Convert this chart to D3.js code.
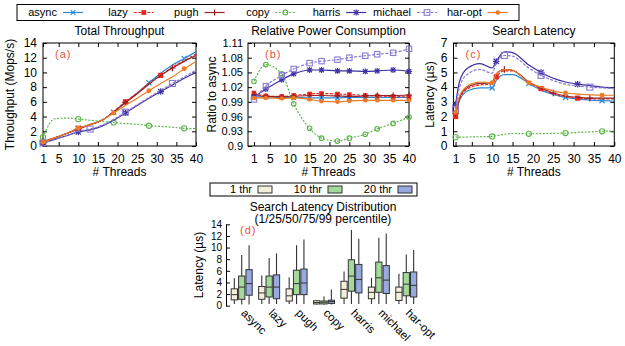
<!DOCTYPE html>
<html>
<head>
<meta charset="utf-8">
<script src="https://cdn.jsdelivr.net/npm/d3@7"></script>
<style>
  body { margin: 0; background: #fff; }
  text { font-family: "Liberation Sans", Arial, sans-serif; fill: #000; }
</style>
</head>
<body>
<svg id="chart" width="625" height="346"></svg>
<script>
const seriesNames = ["async", "lazy", "pugh", "copy", "harris", "michael", "har-opt"];

// thread counts used by each line panel
const threadsA = [1, 4, 7, 10, 13, 16, 19, 22, 25, 28, 31, 34, 37, 40];
const threadsB = [1, 4, 8, 11, 15, 18, 22, 25, 29, 32, 36, 40];
const threadsC = [1, 2, 4, 7, 10, 11, 13, 15, 19, 22, 25, 28, 31, 34, 37, 40];

// (a) total throughput, Mops/s
const tputAsync   = [0.5, 1.1, 1.7, 2.4, 2.9, 3.5, 4.6, 5.9, 7.2, 8.6, 9.9, 11.0, 11.9, 12.8];
const tputLazy    = [0.5, 1.1, 1.7, 2.4, 2.9, 3.5, 4.7, 6.0, 7.2, 8.5, 9.6, 10.7, 11.6, 12.5];
const tputPugh    = [0.6, 1.1, 1.7, 2.3, 2.9, 3.5, 4.6, 5.9, 7.1, 8.4, 9.6, 10.6, 11.5, 12.3];
const tputCopy    = [1.2, 3.7, 3.8, 3.65, 3.5, 3.35, 3.2, 3.05, 2.95, 2.75, 2.65, 2.55, 2.4, 2.35];
const tputHarris  = [0.4, 0.9, 1.4, 1.9, 2.2, 2.7, 3.5, 4.5, 5.5, 6.5, 7.4, 8.3, 9.2, 10.0];
const tputMichael = [0.4, 0.9, 1.4, 2.0, 2.3, 2.8, 3.6, 4.6, 5.6, 6.6, 7.6, 8.5, 9.4, 10.3];
const tputHarOpt  = [0.5, 1.1, 1.7, 2.4, 2.9, 3.5, 4.5, 5.5, 6.5, 7.5, 8.5, 9.4, 10.5, 11.5];

// (b) power relative to async
const powAsync   = [1.0, 1.0, 0.999, 0.999, 0.998, 0.998, 0.998, 0.999, 0.999, 0.999, 0.999, 0.999];
const powLazy    = [1.008, 1.002, 1.001, 1.003, 1.006, 1.007, 1.006, 1.005, 1.003, 1.002, 1.001, 1.0];
const powPugh    = [1.004, 1.001, 1.0, 1.001, 1.003, 1.003, 1.002, 1.001, 1.002, 1.003, 1.003, 1.004];
const powCopy    = [1.032, 1.066, 1.047, 0.986, 0.936, 0.916, 0.910, 0.916, 0.924, 0.935, 0.946, 0.959];
const powHarris  = [1.0, 1.016, 1.035, 1.047, 1.055, 1.055, 1.053, 1.053, 1.052, 1.053, 1.055, 1.052];
const powMichael = [0.995, 1.022, 1.044, 1.057, 1.069, 1.073, 1.076, 1.080, 1.084, 1.087, 1.090, 1.098];
const powHarOpt  = [0.998, 0.998, 0.997, 0.998, 0.995, 0.991, 0.990, 0.992, 0.993, 0.993, 0.993, 0.993];

// (c) search latency, us
const latAsync   = [2.1, 3.1, 3.75, 3.95, 3.95, 4.45, 4.85, 4.85, 4.25, 3.8, 3.5, 3.3, 3.2, 3.12, 3.08, 3.05];
const latLazy    = [2.0, 3.2, 3.9, 4.15, 4.2, 4.7, 5.1, 5.1, 4.3, 3.9, 3.55, 3.35, 3.25, 3.2, 3.2, 3.2];
const latPugh    = [2.2, 3.3, 4.0, 4.25, 4.3, 4.9, 5.2, 5.15, 4.35, 3.95, 3.6, 3.4, 3.3, 3.25, 3.25, 3.25];
const latCopy    = [0.6, 0.6, 0.61, 0.63, 0.65, 0.7, 0.8, 0.85, 0.83, 0.84, 0.86, 0.88, 0.92, 0.96, 1.0, 1.02];
const latHarris  = [2.8, 4.4, 5.3, 5.6, 5.3, 5.75, 6.4, 6.35, 5.5, 5.0, 4.6, 4.35, 4.2, 4.1, 4.0, 3.95];
const latMichael = [2.5, 4.0, 4.9, 5.2, 4.95, 5.65, 6.15, 6.1, 5.3, 4.8, 4.45, 4.2, 4.08, 4.0, 3.95, 3.9];
const latHarOpt  = [2.3, 3.4, 4.1, 4.35, 4.3, 4.9, 5.2, 5.15, 4.3, 4.0, 3.75, 3.6, 3.52, 3.48, 3.45, 3.45];

// (d) latency distribution: [p1, p25, p50, p75, p99] for 1 / 10 / 20 threads
const thrLabels  = ["1 thr", "10 thr", "20 thr"];
const boxAsync   = [[0.3, 1.0, 1.9, 2.9, 4.7], [0.2, 1.1, 3.2, 5.1, 8.7], [0.2, 1.8, 3.8, 6.2, 10.4]];
const boxLazy    = [[0.3, 1.1, 2.2, 3.3, 5.2], [0.3, 1.5, 3.2, 5.1, 8.2], [0.3, 1.2, 3.2, 5.3, 9.0]];
const boxPugh    = [[0.3, 0.8, 1.7, 2.9, 4.9], [0.3, 1.9, 3.8, 6.1, 10.4], [0.3, 1.9, 3.9, 6.3, 11.4]];
const boxCopy    = [[0.2, 0.3, 0.55, 0.85, 0.9], [0.2, 0.3, 0.6, 0.8, 1.6], [0.2, 0.4, 0.7, 0.95, 2.8]];
const boxHarris  = [[0.3, 1.3, 2.8, 4.2, 5.9], [0.3, 2.5, 5.1, 7.9, 13.0], [0.3, 2.2, 4.5, 7.1, 11.5]];
const boxMichael = [[0.3, 1.2, 2.3, 3.2, 4.8], [0.3, 2.3, 4.8, 7.5, 11.7], [0.3, 2.1, 4.4, 6.9, 12.4]];
const boxHarOpt  = [[0.3, 0.9, 2.3, 3.2, 5.5], [0.3, 1.7, 3.7, 5.7, 8.8], [0.3, 1.5, 3.5, 5.8, 9.6]];

const xTicks = [1, 5, 10, 15, 20, 25, 30, 35, 40];

// look of each series
const styles = {
  "async":   {color: "#2a8ad8", marker: "x",     dash: null},
  "lazy":    {color: "#e8291e", marker: "sq",    dash: "3,1.5"},
  "pugh":    {color: "#9c1f25", marker: "plus",  dash: null},
  "copy":    {color: "#5cb548", marker: "circ",  dash: "2,1.5"},
  "harris":  {color: "#3b2fa3", marker: "star",  dash: null},
  "michael": {color: "#8a7bd3", marker: "osq",   dash: "3,1.5"},
  "har-opt": {color: "#ec7a22", marker: "dot",   dash: null}
};
const boxColors = ["#f4efdc", "#a3d99a", "#98a9e0"];

const svg = d3.select("#chart");

function drawMarker(g, type, color, x, y, s) {
  s = s || 2.6;
  if (type === "x" || type === "star") {
    g.append("path").attr("d", `M${x-s},${y-s}L${x+s},${y+s}M${x-s},${y+s}L${x+s},${y-s}`)
      .attr("stroke", color).attr("stroke-width", 1.2).attr("fill", "none");
  }
  if (type === "plus" || type === "star") {
    g.append("path").attr("d", `M${x-s-0.6},${y}H${x+s+0.6}M${x},${y-s-0.6}V${y+s+0.6}`)
      .attr("stroke", color).attr("stroke-width", 1.2).attr("fill", "none");
  }
  if (type === "sq") {
    g.append("rect").attr("x", x - s).attr("y", y - s).attr("width", 2 * s).attr("height", 2 * s)
      .attr("fill", color);
  }
  if (type === "osq") {
    g.append("rect").attr("x", x - s - 0.4).attr("y", y - s - 0.4).attr("width", 2 * s + 0.8).attr("height", 2 * s + 0.8)
      .attr("fill", "none").attr("stroke", color).attr("stroke-width", 1.1);
  }
  if (type === "circ") {
    g.append("circle").attr("cx", x).attr("cy", y).attr("r", s)
      .attr("fill", "none").attr("stroke", color).attr("stroke-width", 1.1);
  }
  if (type === "dot") {
    g.append("circle").attr("cx", x).attr("cy", y).attr("r", s * 0.95).attr("fill", color);
  }
}

function styleAxis(g, size) {
  g.attr("font-family", "Liberation Sans, Arial, sans-serif").attr("font-size", size || 12);
  g.select(".domain").remove();
  g.selectAll(".tick line").attr("stroke", "#000");
}

function linePanel(cfg) {
  const g = svg.append("g");
  const x = d3.scaleLinear().domain(cfg.xDomain).range([cfg.left, cfg.right]);
  const y = d3.scaleLinear().domain(cfg.yDomain).range([cfg.bottom, cfg.top]);

  g.append("g").attr("transform", `translate(0,${cfg.bottom})`)
    .call(d3.axisBottom(x).tickValues(xTicks).tickSizeInner(-4).tickSizeOuter(0).tickPadding(8))
    .call(styleAxis, 12);
  g.append("g").attr("transform", `translate(0,${cfg.top})`)
    .call(d3.axisTop(x).tickValues(xTicks).tickSizeInner(-4).tickSizeOuter(0).tickFormat(""))
    .call(styleAxis);
  g.append("g").attr("transform", `translate(${cfg.left},0)`)
    .call(d3.axisLeft(y).tickValues(cfg.yTicks).tickFormat(cfg.yFormat).tickSizeInner(-4).tickSizeOuter(0).tickPadding(cfg.yPad || 6))
    .call(styleAxis, cfg.yFont);
  g.append("g").attr("transform", `translate(${cfg.right},0)`)
    .call(d3.axisRight(y).tickValues(cfg.yTicks).tickSizeInner(-4).tickSizeOuter(0).tickFormat(""))
    .call(styleAxis);

  g.append("rect").attr("x", cfg.left).attr("y", cfg.top)
    .attr("width", cfg.right - cfg.left).attr("height", cfg.bottom - cfg.top)
    .attr("fill", "none").attr("stroke", "#000").attr("stroke-width", 1);

  const line = d3.line().x(d => x(d[0])).y(d => y(d[1])).curve(d3.curveMonotoneX);

  seriesNames.forEach((name, i) => {
    const st = styles[name];
    const pts = cfg.threads.map((t, k) => [t, cfg.values[i][k]]);
    g.append("path").datum(pts)
      .attr("d", line)
      .attr("fill", "none")
      .attr("stroke", st.color)
      .attr("stroke-width", 1.2)
      .attr("stroke-dasharray", st.dash);
    const idx = cfg.markAt ? cfg.markAt[i] : pts.map((p, k) => k);
    idx.forEach(k => drawMarker(g, st.marker, st.color, x(pts[k][0]), y(pts[k][1]), cfg.markSize));
  });

  g.append("text").attr("x", (cfg.left + cfg.right) / 2).attr("y", cfg.top - 8)
    .attr("text-anchor", "middle").attr("font-size", 12).text(cfg.title);
  g.append("text").attr("x", (cfg.left + cfg.right) / 2).attr("y", cfg.bottom + 30)
    .attr("text-anchor", "middle").attr("font-size", 12).text("# Threads");
  g.append("text")
    .attr("transform", `translate(${cfg.ylabX},${(cfg.top + cfg.bottom) / 2}) rotate(-90)`)
    .attr("text-anchor", "middle").attr("dy", "0.35em").attr("font-size", 12).text(cfg.ylab);
  g.append("text").attr("x", cfg.left + cfg.tagDx).attr("y", cfg.top + 15)
    .attr("font-family", "Liberation Mono, monospace").attr("font-size", 11)
    .attr("letter-spacing", 1).style("fill", "#f0503c").text(cfg.tag);
}

linePanel({
  left: 43, right: 196, top: 43, bottom: 146,
  xDomain: [1, 40], yDomain: [0, 14], yTicks: d3.range(0, 15, 2), yFormat: d3.format("d"),
  threads: threadsA,
  values: [tputAsync, tputLazy, tputPugh, tputCopy, tputHarris, tputMichael, tputHarOpt],
  markAt: [[0, 3, 6, 9, 12], [0, 3, 7, 10], [0, 3, 7, 11], [0, 3, 6, 9, 12], [0, 3, 7, 10], [0, 4, 7, 11], [0, 3, 6, 9, 12]],
  title: "Total Throughput", ylab: "Throughput (Mops/s)", ylabX: 10, tag: "(a)", tagDx: 12
});

linePanel({
  left: 248, right: 409, top: 43, bottom: 146,
  xDomain: [-0.5, 40], yDomain: [0.9, 1.11], yTicks: [0.9, 0.93, 0.96, 0.99, 1.02, 1.05, 1.08, 1.11],
  yFormat: d => d3.format(".2~f")(d), yFont: 11, yPad: 5,
  threads: threadsB,
  values: [powAsync, powLazy, powPugh, powCopy, powHarris, powMichael, powHarOpt],
  markSize: 2.3,
  title: "Relative Power Consumption", ylab: "Ratio to async", ylabX: 212, tag: "(b)", tagDx: 17
});

linePanel({
  left: 453.5, right: 614.3, top: 43, bottom: 146,
  xDomain: [0.5, 40], yDomain: [0, 7], yTicks: d3.range(0, 8, 1), yFormat: d3.format("d"),
  threads: threadsC,
  values: [latAsync, latLazy, latPugh, latCopy, latHarris, latMichael, latHarOpt],
  markAt: [[0, 4, 8, 11, 14], [0, 5, 9, 12], [0, 6, 10, 13], [0, 4, 8, 11, 14], [0, 5, 9, 12], [0, 6, 9, 13], [0, 4, 8, 11, 14]],
  title: "Search Latency", ylab: "Latency (\u00b5s)", ylabX: 430, tag: "(c)", tagDx: 12
});

// top legend
const leg = svg.append("g");
leg.append("rect").attr("x", 17).attr("y", 4.5).attr("width", 502).attr("height", 16)
  .attr("fill", "none").attr("stroke", "#000");
seriesNames.forEach((name, i) => {
  const st = styles[name];
  const sx = 63 + i * 70.8;
  leg.append("text").attr("x", sx - 6).attr("y", 12.5).attr("dy", "0.35em")
    .attr("text-anchor", "end").attr("font-size", 11).text(name);
  leg.append("line").attr("x1", sx).attr("x2", sx + 20).attr("y1", 12.5).attr("y2", 12.5)
    .attr("stroke", st.color).attr("stroke-width", 1.2).attr("stroke-dasharray", st.dash);
  drawMarker(leg, st.marker, st.color, sx + 10, 12.5, 2.4);
});

// (d) box plots
const boxData = [boxAsync, boxLazy, boxPugh, boxCopy, boxHarris, boxMichael, boxHarOpt];
const gd = svg.append("g");
const xd = d3.scaleBand().domain(seriesNames).range([228, 420]);
const xs = d3.scaleBand().domain(thrLabels).range([-10.5, 10.5]).paddingInner(0.15);
const yd = d3.scaleLinear().domain([0, 14]).range([305.7, 224.3]);

gd.append("g").attr("transform", "translate(226,0)")
  .call(d3.axisLeft(yd).tickValues(d3.range(0, 15, 2)).tickSizeInner(-4).tickSizeOuter(0).tickPadding(4))
  .call(g => {
    g.attr("font-family", "Liberation Sans, Arial, sans-serif").attr("font-size", 10);
    g.select(".domain").attr("stroke", "#000");
  });

seriesNames.forEach((name, i) => {
  thrLabels.forEach((thr, j) => {
    const v = boxData[i][j];
    const cx = xd(name) + xd.bandwidth() / 2 + xs(thr) + xs.bandwidth() / 2;
    const w = xs.bandwidth();
    gd.append("line").attr("x1", cx).attr("x2", cx).attr("y1", yd(v[0])).attr("y2", yd(v[4]))
      .attr("stroke", "#333").attr("stroke-width", 1.1);
    gd.append("rect").attr("x", cx - w / 2).attr("y", yd(v[3]))
      .attr("width", w).attr("height", yd(v[1]) - yd(v[3]))
      .attr("fill", boxColors[j]).attr("stroke", "#333").attr("stroke-width", 1);
    gd.append("line").attr("x1", cx - w / 2).attr("x2", cx + w / 2).attr("y1", yd(v[2])).attr("y2", yd(v[2]))
      .attr("stroke", "#333").attr("stroke-width", 1);
  });
  gd.append("text")
    .attr("transform", `translate(${xd(name) + xd.bandwidth() / 2 + 4.5},308) rotate(45)`)
    .attr("dy", "0.7em").attr("font-size", 11.5).text(name);
});

gd.append("text").attr("transform", "translate(199,265) rotate(-90)")
  .attr("text-anchor", "middle").attr("dy", "0.35em").attr("font-size", 12).text("Latency (\u00b5s)");
gd.append("text").attr("x", 323).attr("y", 206.5).attr("dy", "0.35em")
  .attr("text-anchor", "middle").attr("font-size", 12).text("Search Latency Distribution");
gd.append("text").attr("x", 323).attr("y", 219).attr("dy", "0.35em")
  .attr("text-anchor", "middle").attr("font-size", 12).text("(1/25/50/75/99 percentile)");
gd.append("text").attr("x", 240).attr("y", 234)
  .attr("font-family", "Liberation Mono, monospace").attr("font-size", 11)
  .attr("letter-spacing", 1).style("fill", "#f0503c").text("(d)");

// box legend
const leg2 = svg.append("g");
leg2.append("rect").attr("x", 210).attr("y", 183).attr("width", 207).attr("height", 13)
  .attr("fill", "none").attr("stroke", "#000");
thrLabels.forEach((thr, j) => {
  const sx = 258 + j * 70;
  leg2.append("text").attr("x", sx - 6).attr("y", 189.5).attr("dy", "0.35em")
    .attr("text-anchor", "end").attr("font-size", 11).text(thr);
  leg2.append("rect").attr("x", sx).attr("y", 186).attr("width", 14).attr("height", 7)
    .attr("fill", boxColors[j]).attr("stroke", "#333");
});
</script>
</body>
</html>
